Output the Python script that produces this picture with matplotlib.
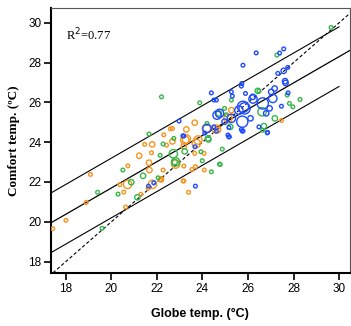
import matplotlib
matplotlib.use("Agg")
import matplotlib.pyplot as plt
import numpy as np

# point data: globe temp, comfort temp, marker size class (s / m / L / X)
orange_x = [17.42, 18.00, 18.89, 19.08, 20.54, 20.72, 20.37, 20.71, 20.62, 21.29,
            21.67, 21.65, 21.80, 21.61, 22.18, 22.82, 22.30, 22.59, 22.68, 23.66,
            21.46, 21.79, 22.42, 21.76, 21.22, 22.27, 22.15, 23.29, 23.18, 23.80,
            23.15, 23.39, 22.17, 24.07, 24.08, 24.17, 24.61, 25.12, 25.27, 27.47,
            23.29, 23.73, 23.22, 23.66, 23.18, 23.54, 23.69, 23.18, 24.68, 22.68]
orange_y = [19.65, 20.07, 20.97, 22.38, 21.49, 22.81, 21.86, 21.88, 20.74, 21.38,
            22.60, 22.97, 21.88, 21.68, 22.13, 22.90, 24.37, 24.67, 24.04, 24.98,
            23.89, 23.89, 23.85, 23.47, 23.32, 22.60, 22.13, 24.16, 23.80, 24.11,
            22.05, 21.48, 22.10, 23.44, 22.60, 24.69, 24.66, 25.20, 25.61, 25.09,
            24.64, 23.94, 24.11, 23.44, 22.80, 22.63, 22.77, 22.05, 24.61, 24.69]
orange_s = ["s", "s", "s", "s", "s", "s", "s", "L", "s", "s",
            "m", "m", "L", "s", "m", "L", "s", "s", "m", "m",
            "s", "m", "s", "s", "m", "s", "s", "L", "m", "L",
            "s", "s", "s", "s", "s", "L", "L", "L", "m", "s",
            "m", "L", "L", "s", "s", "s", "s", "s", "m", "s"]

green_x = [19.39, 19.59, 20.29, 20.50, 20.87, 21.14, 21.39, 22.05, 22.82, 21.65,
           24.20, 22.27, 23.22, 24.26, 23.93, 23.99, 22.14, 22.72, 22.78, 24.75,
           24.39, 24.87, 25.05, 22.20, 22.74, 24.72, 25.27, 26.48, 27.72, 27.82,
           28.29, 27.97, 23.88, 26.43, 27.18, 26.70, 24.97, 25.22, 26.65, 29.65,
           27.27, 26.62, 24.24, 24.78]
green_y = [21.48, 19.67, 21.39, 22.60, 21.99, 21.23, 22.31, 22.21, 23.01, 24.41,
           24.94, 23.91, 23.54, 24.14, 23.52, 23.07, 23.34, 23.42, 23.00, 22.90,
           22.51, 23.65, 25.38, 26.28, 24.19, 25.45, 26.12, 26.57, 26.37, 25.95,
           26.15, 25.78, 25.98, 26.58, 25.20, 24.81, 25.70, 24.77, 24.60, 29.77,
           28.38, 25.53, 24.19, 22.88]
green_s = ["s", "s", "s", "s", "m", "m", "m", "s", "L", "s",
           "s", "s", "m", "m", "s", "s", "s", "L", "m", "s",
           "s", "s", "s", "s", "s", "m", "s", "s", "s", "s",
           "s", "s", "s", "m", "m", "m", "s", "m", "s", "s",
           "s", "L", "m", "s"]

blue_x = [21.86, 21.63, 22.97, 23.14, 23.67, 24.20, 24.64, 25.16, 25.16, 23.69,
          25.18, 25.78, 26.86, 24.61, 25.78, 24.39, 25.27, 25.71, 25.31, 25.89,
          26.21, 24.61, 27.02, 27.65, 27.31, 27.75, 26.36, 27.39, 27.57, 27.57,
          27.63, 27.17, 25.78, 25.60, 26.65, 27.09, 26.95, 25.75, 25.27, 24.75,
          26.11, 26.48, 25.71, 25.12, 26.80, 27.76, 27.47, 26.85, 25.85, 24.97,
          25.75, 23.18, 24.50, 24.50, 25.73, 24.10, 26.22]
blue_y = [21.96, 21.79, 25.06, 24.32, 23.77, 24.69, 25.36, 24.74, 24.27, 21.79,
          24.27, 24.56, 24.49, 24.56, 27.87, 26.48, 26.53, 26.82, 26.32, 26.45,
          26.28, 26.12, 26.53, 26.98, 27.46, 27.76, 28.49, 28.48, 28.69, 27.59,
          27.07, 26.70, 25.78, 25.61, 25.95, 26.20, 25.70, 25.03, 25.20, 25.45,
          25.20, 24.77, 24.64, 24.36, 25.45, 26.48, 25.81, 24.47, 25.70, 25.03,
          24.56, 24.31, 24.77, 26.12, 26.95, 24.46, 26.17]
blue_s = ["s", "s", "s", "s", "s", "L", "L", "s", "s", "s",
          "s", "s", "s", "s", "s", "s", "s", "s", "s", "s",
          "m", "s", "m", "m", "s", "s", "s", "s", "s", "m",
          "m", "m", "X", "L", "X", "L", "m", "X", "L", "L",
          "m", "s", "s", "s", "m", "s", "s", "s", "X", "m",
          "s", "s", "s", "s", "s", "s", "L"]

# fitted line and prediction band
slope = 0.66
intercept = 8.5
band = 1.5
r2_text = "R$^2$=0.77"

sizes = {"s": 7, "m": 15, "L": 36, "X": 65}
colors = {"orange": "#F7941D", "green": "#39B54A", "blue": "#1F4BFF"}

fig = plt.figure(figsize=(3.51, 3.26), dpi=100)
ax = fig.add_axes([0.145, 0.163, 0.852, 0.812])

for xs, ys, ss, c in [(orange_x, orange_y, orange_s, colors["orange"]),
                      (green_x, green_y, green_s, colors["green"]),
                      (blue_x, blue_y, blue_s, colors["blue"])]:
    ax.scatter(xs, ys, s=[sizes[k] for k in ss], facecolors="none",
               edgecolors=c, linewidths=1.0, zorder=3)

xlo, xhi = 17.34, 30.48
ylo, yhi = 17.43, 30.74

xr = np.array([xlo, xhi])
ax.plot(xr, slope * xr + intercept, color="black", lw=0.9, zorder=2)
xb = np.array([xlo, 30.0])
ax.plot(xb, slope * xb + intercept + band, color="black", lw=0.8, zorder=2)
ax.plot(xb, slope * xb + intercept - band, color="black", lw=0.8, zorder=2)
xd = np.array([ylo, 31.0])
ax.plot(xd, xd, color="black", lw=0.8, ls=(0, (3, 2)), zorder=2)

ax.set_xlim(xlo, xhi)
ax.set_ylim(ylo, yhi)
ax.set_xticks(np.arange(18, 31, 2))
ax.set_yticks(np.arange(18, 31, 2))

ax.tick_params(direction="out", length=5, width=1.2, labelsize=8.5,
               top=False, right=False, pad=2)
for lab in ax.get_xticklabels() + ax.get_yticklabels():
    lab.set_fontfamily("Liberation Sans")

ax.spines["left"].set_linewidth(1.5)
ax.spines["bottom"].set_linewidth(1.5)
ax.spines["top"].set_linewidth(0.8)
ax.spines["right"].set_linewidth(0.8)
ax.spines["top"].set_color("#555555")
ax.spines["right"].set_color("#555555")

ax.text(18.0, 29.38, r2_text, fontsize=9, family="Liberation Serif",
        va="center", ha="left")

ax.set_xlabel("Globe temp. (°C)", fontsize=9, fontweight="bold",
              family="Liberation Sans", labelpad=10)
ax.set_ylabel("Comfort temp. (ºC)", fontsize=9.5, fontweight="bold",
              family="Liberation Serif", labelpad=6)

fig.savefig("out.png", dpi=100)
